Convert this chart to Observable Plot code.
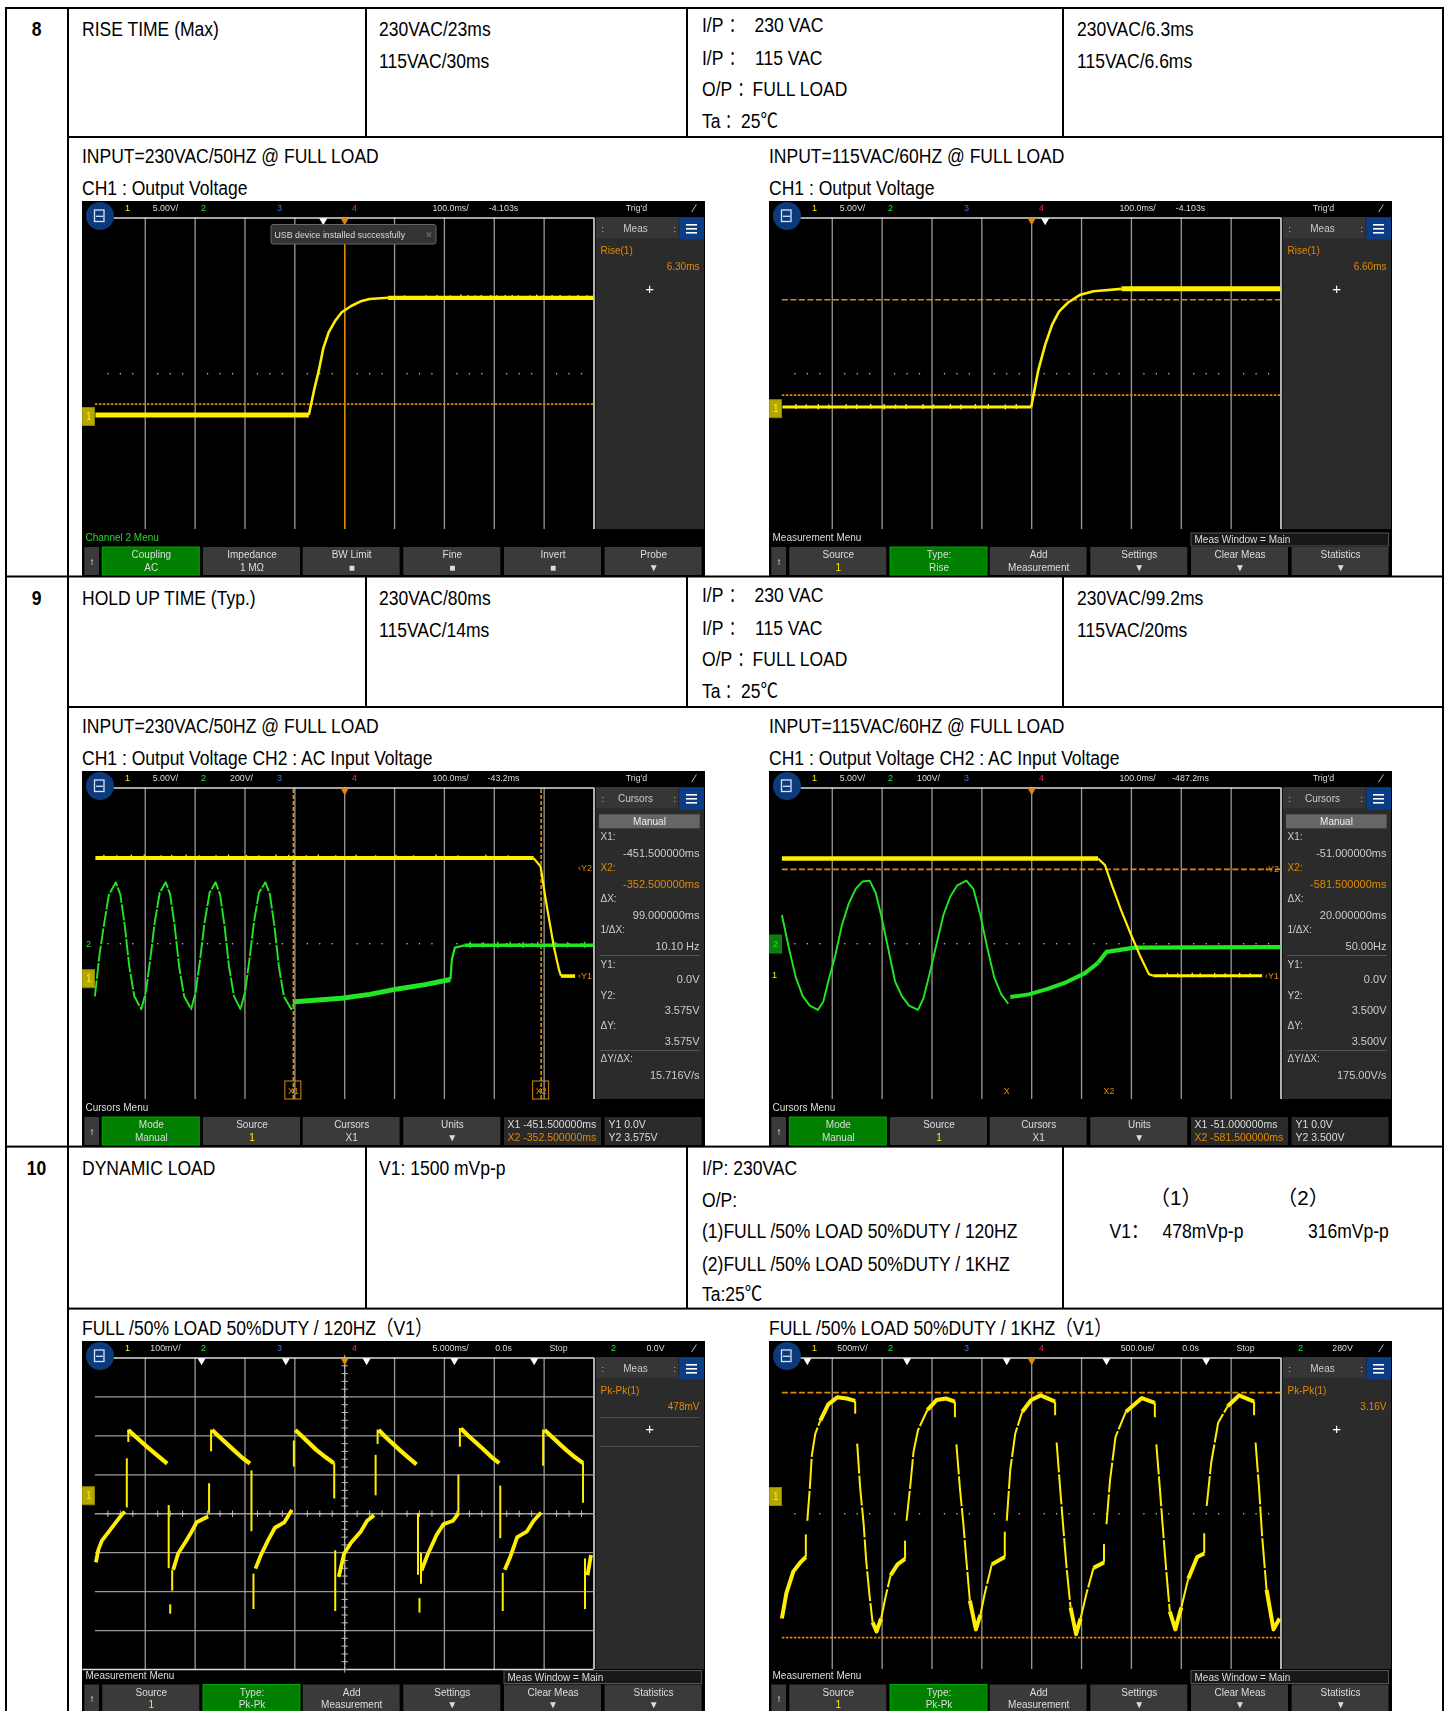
<!DOCTYPE html>
<html><head><meta charset="utf-8">
<script src="https://cdn.jsdelivr.net/npm/d3@7"></script>
<script src="https://cdn.jsdelivr.net/npm/@observablehq/plot@0.6"></script>
<style>
html,body{margin:0;padding:0;background:#fff;width:1447px;height:1711px;overflow:hidden}
#page{position:relative;width:1447px;height:1711px;overflow:hidden}
#page svg{position:absolute;display:block;max-width:none}
</style></head><body><div id="page"></div>
<script>
// ---------- table text ----------
const rowNumbers = ["8","9","10"];
const itemNames = ["RISE TIME (Max)","HOLD UP TIME (Typ.)","DYNAMIC LOAD"];
const specLines = [["230VAC/23ms","115VAC/30ms"],["230VAC/80ms","115VAC/14ms"],["V1: 1500 mVp-p"]];
const conditionTokens = [["I/P","：","230 VAC"],["I/P","：","115 VAC"],["O/P","：","FULL LOAD"],["Ta","：","25℃"]];
const dynamicConditions = ["I/P: 230VAC","O/P:","(1)FULL /50% LOAD 50%DUTY / 120HZ","(2)FULL /50% LOAD 50%DUTY / 1KHZ","Ta:25℃"];
const resultLines = [["230VAC/6.3ms","115VAC/6.6ms"],["230VAC/99.2ms","115VAC/20ms"]];
const dynamicHeads = ["（1）","（2）"];
const dynamicValues = ["V1：","478mVp-p","316mVp-p"];
const captions = [
  [["INPUT=230VAC/50HZ @ FULL LOAD","CH1 : Output Voltage"],["INPUT=115VAC/60HZ @ FULL LOAD","CH1 : Output Voltage"]],
  [["INPUT=230VAC/50HZ @ FULL LOAD","CH1 : Output Voltage CH2 : AC Input Voltage"],["INPUT=115VAC/60HZ @ FULL LOAD","CH1 : Output Voltage CH2 : AC Input Voltage"]],
  [["FULL /50% LOAD 50%DUTY / 120HZ（V1）"],["FULL /50% LOAD 50%DUTY / 1KHZ（V1）"]]];

// ---------- traces, in divisions (t = time div from centre, v = volts div from centre) ----------
const s1LowLevel = [[-5.0,-1.06],[-0.72,-1.06]];
const s1Edge = [[-0.72,-1.06],[-0.61,-0.40],[-0.52,0.08],[-0.43,0.65],[-0.32,1.07],[-0.19,1.36],[-0.06,1.58],[0.13,1.74],[0.32,1.86],[0.5,1.92],[0.87,1.95]];
const s1Plateau = [[0.87,1.95],[4.99,1.95]];
const s1Noise = [[1.2,1.9,2.0],[1.63,1.89,2.0],[1.85,1.9,2.01],[2.12,1.89,2.0],[2.33,1.88,2.02],[2.47,1.89,2.01],[2.62,1.9,2.0],[2.74,1.89,2.01],[2.93,1.88,2.01],[3.05,1.89,2.0],[3.22,1.88,2.01],[3.36,1.9,2.01],[3.48,1.88,2.0],[3.71,1.89,2.0],[3.85,1.88,2.02],[3.98,1.89,2.0],[4.16,1.88,2.01],[4.32,1.9,2.01],[4.51,1.88,2.0],[4.68,1.89,2.01],[4.86,1.89,2.0]];
const s1Cursors = {h:[-0.78],v:[0],white:[-0.43]};

const s2LowLevel = [[-5.0,-0.855],[-0.01,-0.855]];
const s2Edge = [[-0.01,-0.855],[0.13,0.08],[0.27,0.74],[0.41,1.26],[0.55,1.6],[0.73,1.83],[0.96,2.02],[1.24,2.12],[1.8,2.18]];
const s2Plateau = [[1.8,2.18],[4.99,2.18]];
const s2Noise = [[-4.73,-0.92,-0.79],[-4.52,-0.91,-0.8],[-4.28,-0.93,-0.79],[-4.07,-0.91,-0.8],[-3.72,-0.91,-0.79],[-3.51,-0.92,-0.8],[-3.23,-0.91,-0.79],[-2.96,-0.93,-0.79],[-2.73,-0.91,-0.8],[-2.52,-0.92,-0.79],[-2.18,-0.92,-0.79],[-1.97,-0.91,-0.8],[-1.63,-0.92,-0.79],[-1.42,-0.93,-0.8],[-1.13,-0.91,-0.79],[-0.87,-0.92,-0.79],[-0.53,-0.93,-0.8],[-0.31,-0.92,-0.79]];
const s2Cursors = {h:[1.9,-0.55],v:[],white:[0.27]};

const s3YellowFlat = [[-5.0,2.2],[3.79,2.2]];
const s3YellowFall = [[3.79,2.2],[3.93,1.98],[4.02,1.22],[4.11,0.55],[4.2,-0.11],[4.3,-0.68],[4.34,-0.83]];
const s3YellowLow = [[4.34,-0.83],[4.62,-0.83]];
const s3Sine = [[-5.01,-1.35],[-4.92,-0.30],[-4.82,0.55],[-4.73,1.26],[-4.59,1.58],[-4.5,1.26],[-4.41,0.46],[-4.32,-0.59],[-4.22,-1.35],[-4.08,-1.68],[-3.99,-1.25],[-3.9,-0.40],[-3.81,0.55],[-3.71,1.31],[-3.59,1.58],[-3.5,1.26],[-3.41,0.46],[-3.32,-0.59],[-3.22,-1.35],[-3.08,-1.68],[-2.99,-1.25],[-2.9,-0.40],[-2.81,0.55],[-2.71,1.31],[-2.59,1.58],[-2.5,1.26],[-2.41,0.46],[-2.32,-0.59],[-2.22,-1.35],[-2.09,-1.68],[-2.0,-1.25],[-1.91,-0.40],[-1.82,0.55],[-1.72,1.31],[-1.59,1.58],[-1.5,1.26],[-1.41,0.46],[-1.32,-0.59],[-1.22,-1.35],[-1.07,-1.68],[-1.0,-1.49]];
const s3GreenDecay = [[-1.0,-1.49],[-0.06,-1.40],[0.5,-1.30],[1.06,-1.16],[1.61,-1.05],[2.12,-0.92]];
const s3GreenStep = [[2.12,-0.92],[2.15,-0.40],[2.21,-0.10],[2.4,-0.04]];
const s3GreenFlat = [[2.4,-0.04],[4.99,-0.04]];
const s3YellowNoise = [[-4.83,2.14,2.27],[-4.57,2.15,2.26],[-4.28,2.14,2.27],[-4.02,2.15,2.28],[-3.68,2.14,2.26],[-3.47,2.15,2.27],[-3.18,2.14,2.28],[-2.92,2.15,2.26],[-2.58,2.14,2.26],[-2.33,2.15,2.28],[-1.97,2.14,2.27],[-1.72,2.15,2.26],[-1.38,2.14,2.28],[-1.12,2.15,2.27],[-0.77,2.14,2.26],[-0.53,2.15,2.28],[-0.18,2.14,2.26],[0.23,2.15,2.27],[0.62,2.14,2.26],[1.03,2.15,2.27],[1.38,2.14,2.26],[1.83,2.15,2.28],[2.27,2.14,2.26],[2.83,2.15,2.27],[3.28,2.14,2.26]];
const s3GreenNoise = [[2.52,-0.12,0.04],[2.78,-0.11,0.03],[3.07,-0.12,0.04],[3.32,-0.11,0.04],[3.58,-0.12,0.03],[3.87,-0.11,0.04],[4.22,-0.12,0.04],[4.47,-0.11,0.03],[4.81,-0.12,0.04]];
const s3Cursors = {h:[],v:[-1.03,3.94],white:[]};

const s4YellowFlat = [[-5.01,2.19],[1.33,2.19]];
const s4YellowFall = [[1.33,2.19],[1.47,2.02],[1.61,1.5],[1.8,0.84],[1.98,0.27],[2.17,-0.3],[2.35,-0.78],[2.44,-0.82]];
const s4YellowLow = [[2.44,-0.82],[4.62,-0.82]];
const s4Sine = [[-5.01,0.74],[-4.87,-0.11],[-4.73,-0.87],[-4.59,-1.35],[-4.45,-1.59],[-4.29,-1.70],[-4.18,-1.49],[-4.08,-0.97],[-3.94,-0.30],[-3.81,0.46],[-3.67,1.03],[-3.53,1.41],[-3.39,1.6],[-3.25,1.62],[-3.13,1.31],[-3.02,0.74],[-2.88,-0.11],[-2.74,-0.97],[-2.6,-1.35],[-2.46,-1.59],[-2.28,-1.70],[-2.17,-1.40],[-2.05,-0.78],[-1.91,-0.02],[-1.77,0.74],[-1.63,1.22],[-1.49,1.5],[-1.31,1.62],[-1.17,1.41],[-1.03,0.74],[-0.89,-0.11],[-0.75,-0.87],[-0.61,-1.30],[-0.47,-1.54]];
const s4GreenDecay = [[-0.43,-1.37],[-0.06,-1.30],[0.32,-1.16],[0.69,-0.99],[1.06,-0.76],[1.33,-0.49]];
const s4GreenFlat = [[1.33,-0.49],[1.5,-0.21],[1.8,-0.15],[2.07,-0.10],[4.99,-0.085]];
const s4YellowNoise = [[2.72,-0.87,-0.76],[2.93,-0.88,-0.77],[3.22,-0.87,-0.76],[3.38,-0.87,-0.77],[3.67,-0.88,-0.76],[3.88,-0.87,-0.77],[4.17,-0.88,-0.76],[4.38,-0.87,-0.77]];
const s4Cursors = {h:[1.91],v:[],white:[]};

const s5Falls = [
  [[-4.34,2.15],[-4.22,2.01],[-3.94,1.69],[-3.71,1.45],[-3.56,1.29]],
  [[-2.66,2.15],[-2.51,1.97],[-2.23,1.64],[-2.05,1.43],[-1.9,1.29]],
  [[-0.99,2.15],[-0.84,1.97],[-0.57,1.64],[-0.38,1.45],[-0.22,1.3]],
  [[0.68,2.15],[0.82,1.97],[1.1,1.64],[1.29,1.43],[1.44,1.27]],
  [[2.33,2.19],[2.49,1.99],[2.77,1.67],[2.95,1.45],[3.1,1.3]],
  [[4.01,2.15],[4.16,1.97],[4.44,1.64],[4.62,1.45],[4.78,1.3]]];
const s5Rises = [
  [[-4.99,-1.25],[-4.94,-0.92],[-4.87,-0.69],[-4.73,-0.46],[-4.59,-0.22],[-4.48,-0.04],[-4.41,0.06]],
  [[-3.44,-1.44],[-3.34,-1.02],[-3.2,-0.74],[-3.07,-0.46],[-2.97,-0.22],[-2.74,-0.07]],
  [[-1.79,-1.41],[-1.68,-1.06],[-1.54,-0.69],[-1.4,-0.36],[-1.21,-0.22],[-1.06,0.1]],
  [[-0.12,-1.62],[-0.01,-1.02],[0.13,-0.74],[0.32,-0.46],[0.45,-0.18],[0.59,-0.04]],
  [[1.54,-1.46],[1.66,-1.06],[1.84,-0.55],[1.98,-0.27],[2.17,-0.18],[2.28,0.01]],
  [[3.21,-1.44],[3.32,-1.11],[3.46,-0.6],[3.65,-0.46],[3.79,-0.18],[3.94,0.03]],
  [[4.87,-1.58],[4.94,-1.06]]];
const s5Spikes = [[-4.34,2.15,1.83],[-2.68,2.15,1.59],[-1.02,1.87,1.2],[0.66,2.15,1.78],[2.31,2.19,1.71],[3.98,2.15,1.22],
  [-4.37,1.41,0.15],[-3.53,0.21,-1.41],[-3.46,-1.46,-1.99],[-3.5,-2.34,-2.58],
  [-2.72,0.77,0.01],[-1.87,1.1,-0.46],[-1.83,-1.55,-2.46],
  [-0.21,1.3,0.38],[-0.19,-0.95,-2.51],[0.62,1.5,0.46],
  [1.47,0.01,-1.58],[1.53,-1.02,-1.81],[1.5,-2.18,-2.55],
  [2.28,0.99,0.01],[3.12,0.71,-0.64],[3.17,-1.53,-2.51],[4.78,1.3,0.27],[4.82,-1.16,-2.46]];
const s5Triggers = [-2.87,-1.18,0.44,2.2,3.8];
const s5Cursors = {h:[],v:[],white:s5Triggers};

const s6Thick = [
  [[-5.01,-2.69],[-4.92,-2.04],[-4.78,-1.48],[-4.64,-1.25],[-4.53,-1.11]],
  [[-4.24,2.39],[-4.08,2.81],[-3.9,2.99],[-3.71,2.96],[-3.54,2.9]],
  [[-3.19,-2.79],[-3.11,-3.02],[-3.02,-2.69]],
  [[-2.83,-1.58],[-2.69,-1.3],[-2.54,-1.16]],
  [[-2.09,2.67],[-1.91,2.92],[-1.72,2.96],[-1.54,2.88]],
  [[-1.24,-2.23],[-1.12,-2.97],[-1.03,-2.6]],
  [[-0.8,-1.3],[-0.54,-1.11]],
  [[-0.19,2.62],[-0.01,2.92],[0.18,3.04],[0.47,2.88]],
  [[0.78,-2.41],[0.89,-3.09],[0.98,-2.69]],
  [[1.24,-1.39],[1.45,-1.25]],
  [[1.89,2.62],[2.21,2.97],[2.47,2.85]],
  [[2.77,-2.51],[2.88,-2.97],[3.0,-2.41]],
  [[3.14,-1.67],[3.32,-1.11],[3.46,-1.02]],
  [[3.93,2.76],[4.16,3.04],[4.46,2.88]],
  [[4.71,-1.95],[4.85,-2.97],[4.97,-2.69]]];
const s6Thin = [
  [[-4.53,-1.11],[-4.53,-0.53]],
  [[-4.5,-0.18],[-4.45,0.66],[-4.41,1.5],[-4.34,2.06],[-4.24,2.39]],
  [[-3.54,2.9],[-3.54,2.57]],
  [[-3.5,1.8],[-3.44,0.66],[-3.37,-0.27],[-3.32,-1.2],[-3.25,-2.13],[-3.19,-2.79]],
  [[-3.02,-2.69],[-2.93,-2.13],[-2.83,-1.58]],
  [[-2.54,-1.16],[-2.54,-0.69]],
  [[-2.51,-0.18],[-2.44,0.66],[-2.37,1.59],[-2.28,2.15],[-2.09,2.67]],
  [[-1.54,2.88],[-1.54,2.48]],
  [[-1.51,1.78],[-1.44,0.66],[-1.37,-0.27],[-1.31,-1.2],[-1.24,-2.23]],
  [[-1.03,-2.6],[-0.94,-2.04],[-0.8,-1.3]],
  [[-0.54,-1.11],[-0.54,-0.46]],
  [[-0.5,-0.18],[-0.43,1.13],[-0.33,2.06],[-0.19,2.62]],
  [[0.47,2.88],[0.47,2.53]],
  [[0.5,1.83],[0.57,0.66],[0.64,-0.46],[0.7,-1.39],[0.78,-2.41]],
  [[0.98,-2.69],[1.1,-2.04],[1.24,-1.39]],
  [[1.45,-1.25],[1.45,-0.78]],
  [[1.5,-0.27],[1.57,0.85],[1.68,1.97],[1.89,2.62]],
  [[2.47,2.85],[2.47,2.48]],
  [[2.5,1.78],[2.57,0.66],[2.63,-0.36],[2.7,-1.48],[2.77,-2.51]],
  [[3.0,-2.41],[3.14,-1.67]],
  [[3.46,-1.02],[3.46,-0.5]],
  [[3.51,0.2],[3.6,1.31],[3.74,2.34],[3.93,2.76]],
  [[4.46,2.88],[4.46,2.53]],
  [[4.49,1.83],[4.56,0.66],[4.62,-0.55],[4.71,-1.95]]];
const s6Triggers = [-4.5,-2.5,-0.5,1.5,3.5];
const s6Cursors = {h:[3.11,-3.18],v:[],white:s6Triggers};

// ---------- oscilloscope readouts ----------
const chKeys = [["Coupling","AC"],["Impedance","1 MΩ"],["BW Limit","■"],["Fine","■"],["Invert","■"],["Probe","▼"]];
const riseKeys = [["Source","1"],["Type:","Rise"],["Add","Measurement"],["Settings","▼"],["Clear Meas","▼"],["Statistics","▼"]];
const cursorKeys = [["Mode","Manual"],["Source","1"],["Cursors","X1"],["Units","▼"]];
const pkKeys = [["Source","1"],["Type:","Pk-Pk"],["Add","Measurement"],["Settings","▼"],["Clear Meas","▼"],["Statistics","▼"]];
const cursorLabels = ["X1:","X2:","ΔX:","1/ΔX:","Y1:","Y2:","ΔY:","ΔY/ΔX:"];
const s3CursorVals = ["-451.500000ms","-352.500000ms","99.000000ms","10.10 Hz","0.0V","3.575V","3.575V","15.716V/s"];
const s4CursorVals = ["-51.000000ms","-581.500000ms","20.000000ms","50.00Hz","0.0V","3.500V","3.500V","175.00V/s"];

const scopes = [
 {left:82, top:201, height:375, head:["5.00V/","","100.0ms/","-4.103s","Trig'd"], status:"Channel 2 Menu", statusFill:"#22dd22", keys:chKeys, active:0,
  panel:"Meas", meas:["Rise(1)","6.30ms"], cursors:s1Cursors, ch1:{v:-1.11,box:true}, popup:"USB device installed successfully",
  traces:[[s1LowLevel,"y",5],[s1Edge,"y",2.6],[s1Plateau,"y",4.2]], noise:[[s1Noise,"y"]]},
 {left:769, top:201, height:375, head:["5.00V/","","100.0ms/","-4.103s","Trig'd"], status:"Measurement Menu", statusFill:"#ddd", keys:riseKeys, active:1, win:"Meas Window = Main",
  panel:"Meas", meas:["Rise(1)","6.60ms"], cursors:s2Cursors, ch1:{v:-0.91,box:true},
  traces:[[s2LowLevel,"y",3],[s2Edge,"y",2.6],[s2Plateau,"y",5]], noise:[[s2Noise,"y"]]},
 {left:82, top:771, height:375, head:["5.00V/","200V/","100.0ms/","-43.2ms","Trig'd"], status:"Cursors Menu", statusFill:"#ddd", keys:cursorKeys, active:0, readout:["X1 -451.500000ms","X2 -352.500000ms","Y1 0.0V","Y2 3.575V"],
  panel:"Cursors", panelButton:"Manual", cursorRows:s3CursorVals, cursors:s3Cursors, ch1:{v:-0.91,box:true}, ch2:0, xTags:true, yTags:[[4.62,1.95,"Y2"],[4.62,-0.83,"Y1"]],
  traces:[[s3Sine,"g",1.9,"16 1.5"],[s3GreenDecay,"g",5],[s3GreenStep,"g",2.2],[s3GreenFlat,"g",3.4],[s3YellowFlat,"y",4],[s3YellowFall,"y",2.2],[s3YellowLow,"y",3.6]], noise:[[s3YellowNoise,"y"],[s3GreenNoise,"g"]]},
 {left:769, top:771, height:375, head:["5.00V/","100V/","100.0ms/","-487.2ms","Trig'd"], status:"Cursors Menu", statusFill:"#ddd", keys:cursorKeys, active:0, readout:["X1 -51.000000ms","X2 -581.500000ms","Y1 0.0V","Y2 3.500V"],
  panel:"Cursors", panelButton:"Manual", cursorRows:s4CursorVals, cursors:s4Cursors, ch1:{v:-0.8,box:false}, ch2:-0.02, ch2Box:true, xText:true, yTags:[[4.62,-0.82,"Y1"],[4.62,1.91,"Y2"]],
  traces:[[s4Sine,"g",1.9],[s4GreenDecay,"g",4],[s4GreenFlat,"g",4.2],[s4YellowFlat,"y",4.4],[s4YellowFall,"y",2.2],[s4YellowLow,"y",3]], noise:[[s4YellowNoise,"y"]]},
 {left:82, top:1341, height:370, lift:-2.5, head:["100mV/","","5.000ms/","0.0s","Stop"], trig:"0.0V", status:"Measurement Menu", statusFill:"#ddd", keys:pkKeys, active:1, win:"Meas Window = Main",
  panel:"Meas", meas:["Pk-Pk(1)","478mV"], ruled:true, cursors:s5Cursors, ch1:{v:0.45,box:true},
  traces:[...s5Falls.map(p=>[p,"y",4.2]),...s5Rises.map(p=>[p,"y",3.8])], noise:[[s5Spikes,"y"]]},
 {left:769, top:1341, height:370, lift:-2.5, head:["500mV/","","500.0us/","0.0s","Stop"], trig:"280V", status:"Measurement Menu", statusFill:"#ddd", keys:pkKeys, active:1, win:"Meas Window = Main",
  panel:"Meas", meas:["Pk-Pk(1)","3.16V"], cursors:s6Cursors, ch1:{v:0.43,box:true},
  traces:[...s6Thick.map(p=>[p,"y",4]),...s6Thin.map(p=>[p,"y",2,"30 2"])], noise:[]}
];

// ---------- table frame ----------
const page = document.getElementById("page");
const svg = d3.select(page).append("svg").attr("width",1447).attr("height",1711).style("left","0").style("top","0")
  .style("font-family","'Liberation Sans','Noto Sans CJK SC',sans-serif").style("font-size","20.5px");
const hLine=(y,a=6,b=1444)=>svg.append("rect").attr("x",a).attr("y",y-1).attr("width",b-a).attr("height",2).attr("fill","#000");
const vLine=(x,a,b)=>svg.append("rect").attr("x",x-1).attr("y",a).attr("width",2).attr("height",b-a).attr("fill","#000");
const put=(x,y,s,o={})=>svg.append("text").attr("transform",`translate(${x},${y}) scale(${o.sx||0.855},1)`).attr("text-anchor",o.anchor||"start").attr("font-weight",o.bold?"bold":null).text(s);
[6,68,1443].forEach(x=>vLine(x,7,1711));
const rowTops=[8,576.5,1146.6], rowBots=[137,707,1308.6];
rowTops.forEach(y=>hLine(y)); rowBots.forEach(y=>hLine(y,68,1444));
rowTops.forEach((t,i)=>[366,687,1063].forEach(x=>vLine(x,t,rowBots[i])));
const baseA=[36,605,1175];
rowNumbers.forEach((s,i)=>put(36.5,baseA[i],s,{bold:true,anchor:"middle"}));
itemNames.forEach((s,i)=>put(82,baseA[i],s));
specLines.forEach((ls,i)=>ls.forEach((s,j)=>put(379,baseA[i]+j*31.7,s)));
const condBase=[[32.3,64.5,96.3,127.7],[602.3,634.5,666.3,697.7]];
const colonX=[729,729,737.5,725], valueX=[754.5,755,752.6,741];
condBase.forEach(ys=>conditionTokens.forEach((tk,j)=>{
  put(702,ys[j],tk[0]); put(colonX[j],ys[j],tk[1],{sx:0.7}); put(valueX[j],ys[j],tk[2]);}));
const dynBase=[1175,1206.5,1238,1270.5,1300.5];
dynamicConditions.forEach((s,j)=>put(702,dynBase[j],s));
resultLines.forEach((ls,i)=>ls.forEach((s,j)=>put(1077,baseA[i]+j*31.7,s)));
[1175.7,1303].forEach((x,i)=>put(x,1205,dynamicHeads[i],{anchor:"middle",sx:1}));
[1109.5,1162.6,1308].forEach((x,i)=>put(x,1238,dynamicValues[i]));
const capBase=[[162.5,195],[732.5,765],[1334.6]];
captions.forEach((pair,i)=>pair.forEach((ls,k)=>ls.forEach((s,j)=>put(k?769:82,capBase[i][j],s))));

// ---------- one oscilloscope screen ----------
const W=623, CX=262.2, DX=49.86, CY=172.25, DY=38.94;
const colors={y:"#ffee00",g:"#22e622"};
const ORANGE="#e08a00", GRID="#9a9a9a";
function scopeChart(c){
  const h=c.height, L=c.lift||0;
  const X=p=>(p-CX)/DX, Y=p=>(CY-p)/DY, PX=t=>CX+t*DX, PY=v=>CY-v*DY;
  const R=[], T=[];
  const rect=(a,b,t,u,fill,stroke,rx)=>R.push({a:X(a),b:X(b),t:Y(t),u:Y(u),fill,stroke:stroke||"none",rx});
  const text=(x,y,s,fill="#ddd",anchor="start",size=8.8,weight=400)=>T.push({x:X(x),y:Y(y),s,fill,anchor,size,weight});
  // side panel
  rect(513.6,622,16,328,"#2b2b2b");
  rect(514,596,16,37,"#363636");
  rect(597.4,622,16.5,38.5,"#0b3c86");
  [23,27,31].forEach(y=>rect(604,615,y,y+1.6,"#fff"));
  text(553,27.7,c.panel,"#ccc","middle",10);
  text(519,27.7,":","#ccc","start"); text(591,27.7,":","#ccc","start");
  if(c.meas){
    text(518,49.5,c.meas[0],ORANGE,"start",10,700);
    text(617,65,c.meas[1],ORANGE,"end",10,700);
    T.push({x:X(567),y:Y(87.5),s:"+",fill:"#fff",anchor:"middle",size:15,weight:700});
    if(c.ruled){rect(518,618,76,76.8,"#555");rect(518,618,105,105.8,"#555");}
  }
  if(c.panelButton){
    rect(517,617.7,43.3,57.3,"#666");
    text(567,50.3,c.panelButton,"#eee","middle",10);
    const ys=[65.5,96.6,127.6,158.7,193,224,254,287.5], ds=[16,16,16.4,16.3,15,15,16,16.5];
    cursorLabels.forEach((s,i)=>{const col=i===1?ORANGE:"#ccc";
      text(518,ys[i],s,col,"start",10); text(617,ys[i]+ds[i],c.cursorRows[i],col,"end",11);});
    rect(518,617.7,184,185,"#555"); rect(518,617.7,279,280,"#555");
  }
  // top bar
  const ty=6.6;
  text(45,ty,"1",colors.y,"middle",9,700); text(83,ty,c.head[0],"#ddd","middle");
  text(121,ty,"2",colors.g,"middle",9,700); text(159,ty,c.head[1],"#ddd","middle");
  text(197,ty,"3","#3a6cf0","middle",9,700); text(272,ty,"4","#f0208a","middle",9,700);
  text(368,ty,c.head[2],"#ddd","middle"); text(421,ty,c.head[3],"#ddd","middle"); text(c.trig?476:554,ty,c.head[4],"#ddd","middle");
  if(c.trig){text(531,ty,"2",colors.g,"middle",9,700); text(573,ty,c.trig,"#ddd","middle");}
  text(612,ty,"∕","#ddd","middle",11);
  // status line and softkeys
  const kt=346+L, kb=Math.min(374+L,h);
  text(3,336.7+L,c.status,c.statusFill,"start",10);
  rect(2.3,17,kt,kb,"#3a3a3a",null,3);
  T.push({x:X(9.6),y:Y(kt+14),s:"↑",fill:"#fff",anchor:"middle",size:10,weight:700});
  const kx=[[20.3,117.3],[121,218],[220.7,317.6],[321.3,418.3],[422,519],[522.6,619.6]];
  c.keys.forEach((k,i)=>{const on=i===c.active;
    rect(kx[i][0],kx[i][1],kt,kb,on?"#007f00":"#3a3a3a",on?"#00a800":null,3);
    text((kx[i][0]+kx[i][1])/2,kt+7.5,k[0],"#ddd","middle",10);
    text((kx[i][0]+kx[i][1])/2,kt+20,k[1],k[1]==="1"?colors.y:"#ddd","middle",10);});
  if(c.readout){
    rect(422,519,kt,kb,"#2a2a2a"); rect(522.6,619.6,kt,kb,"#2a2a2a");
    text(425,kt+7.5,c.readout[0],"#ddd","start",10.5); text(425,kt+20,c.readout[1],ORANGE,"start",10.5);
    text(526,kt+7.5,c.readout[2],"#ddd","start",10.5); text(526,kt+20,c.readout[3],"#ddd","start",10.5);
  }
  if(c.win){rect(422,619.6,332+L,345+L,"#181818","#555"); text(425,338.5+L,c.win,"#ddd","start",10);}
  // icons
  const C=[{x:X(17.5),y:Y(14.5)}];
  const icon=[[12.5,22,9,20.5]];
  // channel ground markers
  if(c.ch1.box){const p=PY(c.ch1.v); rect(0,12.5,p-9,p+9,"#b5a800","#8d8400"); text(6.2,p,"1","#ffee00","middle",10,700);}
  else {text(5,PY(c.ch1.v),"1",colors.y,"middle",9,700);}
  if(c.ch2!=null){const p=PY(c.ch2); if(c.ch2Box) rect(0,12.5,p-9,p+9,"#0c7d0c","#0a8a0a"); text(6,p,"2",colors.g,"middle",9,700);}
  // cursor tags
  if(c.xTags) c.cursors.v.forEach((t,i)=>{const p=PX(t); rect(p-8,p+8,310,328,"none",ORANGE); text(p,320,"X"+(i+1),ORANGE,"middle");});
  if(c.xText){text(PX(-0.5),320,"X",ORANGE,"middle"); text(PX(1.55),320,"X2",ORANGE,"middle");}
  (c.yTags||[]).forEach(([t,v,s])=>text(PX(t)+3,PY(v),"‹"+s,ORANGE,"start",9));

  const quarter=d3.range(-5,5.01,0.25).filter(t=>!Number.isInteger(t));
  const grid=[
    Plot.ruleX(d3.range(-4,5),{y1:-4,y2:4,stroke:GRID,strokeWidth:1.3}),
    Plot.ruleX([5],{y1:-4,y2:4,stroke:"#ddd",strokeWidth:1.6}),
    Plot.ruleY([4],{x1:-5,x2:5,stroke:"#ddd",strokeWidth:1.6})
  ];
  if(c.ruled){
    grid.push(Plot.ruleY([-4],{x1:-5.25,x2:5,stroke:"#ddd",strokeWidth:1.6}));
    grid.push(Plot.ruleY(d3.range(-3,4),{x1:-5,x2:5,stroke:GRID,strokeWidth:1.3}));
    grid.push(Plot.dot(quarter,{x:d=>d,y:0,symbol:"plus",r:2.2,stroke:"#bbb",strokeWidth:1}));
    grid.push(Plot.dot(d3.range(-4,4.01,0.2),{x:0,y:d=>d,symbol:"plus",r:2.2,stroke:"#bbb",strokeWidth:1}));
  } else {
    grid.push(Plot.dot(quarter,{x:d=>d,y:0,r:0.75,fill:"#ccc"}));
  }
  const lines=c.traces.map(([pts,col,w,dash])=>Plot.line(pts,{x:d=>d[0],y:d=>d[1],stroke:colors[col],strokeWidth:w,strokeDasharray:dash,strokeLinejoin:"round",strokeLinecap:"butt"}));
  const noise=c.noise.map(([pts,col])=>Plot.ruleX(pts,{x:d=>d[0],y1:d=>d[1],y2:d=>d[2],stroke:colors[col],strokeWidth:c.ruled?2:1.4}));
  const cur=c.cursors;
  const pop=c.popup?[
    Plot.rect([0],{x1:X(189),x2:X(354),y1:Y(23.5),y2:Y(43),fill:"#333",stroke:"#666",rx:2}),
    Plot.text([c.popup],{x:X(192),y:Y(33.5),text:d=>d,fill:"#ddd",fontSize:8.8,textAnchor:"start"}),
    Plot.text(["✕"],{x:X(346),y:Y(33.5),text:d=>d,fill:"#777",fontSize:9})]:[];
  const vStroke=c===scopes[0]?{strokeWidth:1.4}:{strokeWidth:1.6,strokeDasharray:"4 2"};
  const node=Plot.plot({
    width:W,height:h,margin:0,
    style:{background:"#000",fontFamily:"'Liberation Sans',sans-serif",overflow:"hidden"},
    color:{type:"identity"},
    x:{domain:[X(0),X(W)],range:[0,W],axis:null},
    y:{domain:[Y(h),Y(0)],range:[h,0],axis:null},
    marks:[
      ...grid,
      Plot.rect(R,{x1:"a",x2:"b",y1:"u",y2:"t",fill:"fill",stroke:"stroke",rx:"rx"}),
      Plot.ruleX(cur.v,{y1:-4,y2:4,stroke:ORANGE,...vStroke}),
      ...cur.h.map((v,i)=>Plot.ruleY([v],{x1:-5,x2:5,stroke:ORANGE,strokeWidth:1.6,strokeDasharray:(v<0&&i>0)||c===scopes[0]?"2.5 1.5":"6 2.5"})),
      ...lines,...noise,
      Plot.dot(cur.white,{x:d=>d,y:Y(19),symbol:"triangle",rotate:180,r:3,fill:"#fff"}),
      Plot.dot([0],{x:d=>d,y:Y(19),symbol:"triangle",rotate:180,r:3,fill:ORANGE}),
      Plot.dot(C,{x:"x",y:"y",r:14,fill:"#0c3a7a"}),
      Plot.rect(icon,{x1:d=>X(d[0]),x2:d=>X(d[1]),y1:d=>Y(d[2]),y2:d=>Y(d[3]),fill:"#0c3a7a",stroke:"#d8e4ff",strokeWidth:1.3}),
      Plot.ruleY([0],{x1:X(14),x2:X(21),y:Y(14.8),stroke:"#d8e4ff",strokeWidth:1.3}),
      ...pop,
      ...["start","middle","end"].map(a=>Plot.text(T.filter(d=>d.anchor===a),{x:"x",y:"y",text:"s",fill:"fill",fontSize:"size",fontWeight:"weight",textAnchor:a}))
    ]
  });
  node.style.filter="blur(0.3px)";
  return node;
}
scopes.forEach(c=>{
  const node=scopeChart(c);
  node.style.left=c.left+"px"; node.style.top=c.top+"px";
  page.appendChild(node);
});
</script></body></html>
